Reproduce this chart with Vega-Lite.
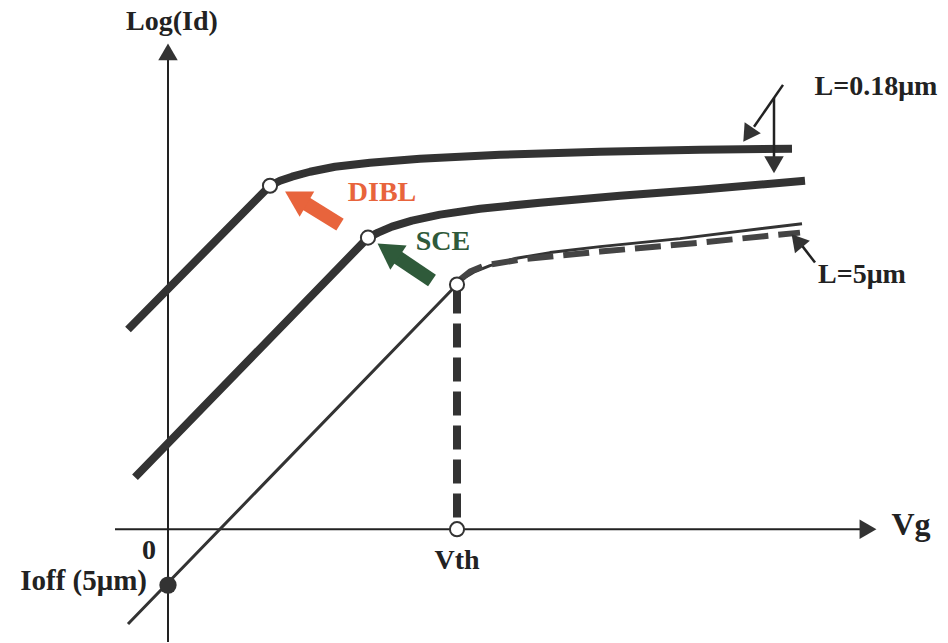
{
  "$schema": "https://vega.github.io/schema/vega-lite/v6.json",
  "width": 948,
  "height": 643,
  "padding": 0,
  "autosize": {"type": "fit", "contains": "padding"},
  "background": "white",
  "config": {"view": {"stroke": null}},
  "datasets": {
    "curves": [
      {"c": "top", "i": 0, "x": -40, "y": 200},
      {"c": "top", "i": 1, "x": 102, "y": 344},
      {"c": "top", "i": 2, "x": 112, "y": 349},
      {"c": "top", "i": 3, "x": 124, "y": 353},
      {"c": "top", "i": 4, "x": 142, "y": 358},
      {"c": "top", "i": 5, "x": 167, "y": 363},
      {"c": "top", "i": 6, "x": 202, "y": 367},
      {"c": "top", "i": 7, "x": 252, "y": 371},
      {"c": "top", "i": 8, "x": 332, "y": 375},
      {"c": "top", "i": 9, "x": 432, "y": 378},
      {"c": "top", "i": 10, "x": 532, "y": 380},
      {"c": "top", "i": 11, "x": 624, "y": 381},
      {"c": "mid", "i": 0, "x": -33, "y": 52},
      {"c": "mid", "i": 1, "x": 200, "y": 292},
      {"c": "mid", "i": 2, "x": 210, "y": 297},
      {"c": "mid", "i": 3, "x": 224, "y": 303},
      {"c": "mid", "i": 4, "x": 244, "y": 309},
      {"c": "mid", "i": 5, "x": 272, "y": 315},
      {"c": "mid", "i": 6, "x": 312, "y": 321},
      {"c": "mid", "i": 7, "x": 372, "y": 327},
      {"c": "mid", "i": 8, "x": 452, "y": 334},
      {"c": "mid", "i": 9, "x": 532, "y": 340},
      {"c": "mid", "i": 10, "x": 637, "y": 349},
      {"c": "long", "i": 0, "x": -40, "y": -95},
      {"c": "long", "i": 1, "x": 289, "y": 245},
      {"c": "long", "i": 2, "x": 297, "y": 252},
      {"c": "long", "i": 3, "x": 307, "y": 258},
      {"c": "long", "i": 4, "x": 322, "y": 264},
      {"c": "long", "i": 5, "x": 347, "y": 271},
      {"c": "long", "i": 6, "x": 382, "y": 277},
      {"c": "long", "i": 7, "x": 432, "y": 283},
      {"c": "long", "i": 8, "x": 512, "y": 291},
      {"c": "long", "i": 9, "x": 634, "y": 306},
      {"c": "ideal", "i": 0, "x": 292, "y": 250},
      {"c": "ideal", "i": 1, "x": 302, "y": 258},
      {"c": "ideal", "i": 2, "x": 316, "y": 264},
      {"c": "ideal", "i": 3, "x": 352, "y": 270},
      {"c": "ideal", "i": 4, "x": 432, "y": 278},
      {"c": "ideal", "i": 5, "x": 532, "y": 287},
      {"c": "ideal", "i": 6, "x": 632, "y": 297}
    ],
    "axes": [
      {"x": 0, "y": 470, "x2": 0, "y2": -113},
      {"x": -53, "y": 0, "x2": 695, "y2": 0}
    ],
    "axisHeads": [
      {"x": 0, "y": 478, "angle": 0},
      {"x": 700, "y": 0, "angle": 90}
    ],
    "vth": [{"x": 289, "y": 240, "x2": 289, "y2": 5}],
    "notes": [
      {"x": 615, "y": 445, "x2": 586, "y2": 403},
      {"x": 606, "y": 432, "x2": 606, "y2": 372},
      {"x": 647, "y": 267, "x2": 634, "y2": 284}
    ],
    "noteHeads": [
      {"x": 580, "y": 395, "angle": 214},
      {"x": 606, "y": 365, "angle": 180},
      {"x": 629, "y": 289, "angle": 320}
    ],
    "knees": [
      {"x": 102, "y": 344},
      {"x": 200, "y": 292},
      {"x": 289, "y": 245},
      {"x": 289, "y": 0}
    ],
    "ioff": [{"x": 0, "y": -56}],
    "labels": [
      {"t": "Log(Id)", "x": 4, "y": 508},
      {"t": "L=0.18μm", "x": 708, "y": 443},
      {"t": "L=5μm", "x": 694, "y": 255},
      {"t": "0", "x": -19, "y": -22},
      {"t": "Vth", "x": 289, "y": -32}
    ]
  },
  "layer": [
    {
      "data": {"name": "axes"},
      "mark": {"type": "rule", "color": "#222", "strokeWidth": 2},
      "encoding": {
        "x": {"field": "x", "type": "quantitative", "scale": {"domain": [-168, 780], "nice": false, "zero": false}, "axis": null},
        "y": {"field": "y", "type": "quantitative", "scale": {"domain": [-113, 530], "nice": false, "zero": false}, "axis": null},
        "x2": {"field": "x2"},
        "y2": {"field": "y2"}
      }
    },
    {
      "data": {"name": "axisHeads"},
      "mark": {"type": "point", "shape": "triangle-up", "filled": true, "color": "#333", "size": 380, "opacity": 1},
      "encoding": {
        "x": {"field": "x", "type": "quantitative"},
        "y": {"field": "y", "type": "quantitative"},
        "angle": {"field": "angle", "type": "quantitative", "scale": null}
      }
    },
    {
      "data": {"name": "curves"},
      "transform": [{"filter": "datum.c === 'top' || datum.c === 'mid'"}],
      "mark": {"type": "line", "color": "#333", "strokeWidth": 8, "strokeCap": "butt", "strokeJoin": "round"},
      "encoding": {
        "x": {"field": "x", "type": "quantitative"},
        "y": {"field": "y", "type": "quantitative"},
        "detail": {"field": "c"},
        "order": {"field": "i"}
      }
    },
    {
      "data": {"name": "curves"},
      "transform": [{"filter": "datum.c === 'long'"}],
      "mark": {"type": "line", "color": "#333", "strokeWidth": 3, "strokeCap": "butt", "strokeJoin": "round"},
      "encoding": {
        "x": {"field": "x", "type": "quantitative"},
        "y": {"field": "y", "type": "quantitative"},
        "order": {"field": "i"}
      }
    },
    {
      "data": {"name": "curves"},
      "transform": [{"filter": "datum.c === 'ideal'"}],
      "mark": {"type": "line", "color": "#444", "strokeWidth": 6, "strokeCap": "butt", "strokeDash": [26, 10], "strokeJoin": "round"},
      "encoding": {
        "x": {"field": "x", "type": "quantitative"},
        "y": {"field": "y", "type": "quantitative"},
        "order": {"field": "i"}
      }
    },
    {
      "data": {"name": "vth"},
      "mark": {"type": "rule", "color": "#333", "strokeWidth": 8, "strokeDash": [24, 10]},
      "encoding": {
        "x": {"field": "x", "type": "quantitative"},
        "y": {"field": "y", "type": "quantitative"},
        "x2": {"field": "x2"},
        "y2": {"field": "y2"}
      }
    },
    {
      "data": {"name": "notes"},
      "mark": {"type": "rule", "color": "#222", "strokeWidth": 2.5},
      "encoding": {
        "x": {"field": "x", "type": "quantitative"},
        "y": {"field": "y", "type": "quantitative"},
        "x2": {"field": "x2"},
        "y2": {"field": "y2"}
      }
    },
    {
      "data": {"name": "noteHeads"},
      "mark": {"type": "point", "shape": "triangle-up", "filled": true, "color": "#333", "size": 380, "opacity": 1},
      "encoding": {
        "x": {"field": "x", "type": "quantitative"},
        "y": {"field": "y", "type": "quantitative"},
        "angle": {"field": "angle", "type": "quantitative", "scale": null}
      }
    },
    {
      "data": {"values": [{"x": 172, "y": 305, "x2": 135, "y2": 328}]},
      "mark": {"type": "rule", "color": "#e8643c", "strokeWidth": 14},
      "encoding": {
        "x": {"field": "x", "type": "quantitative"},
        "y": {"field": "y", "type": "quantitative"},
        "x2": {"field": "x2"},
        "y2": {"field": "y2"}
      }
    },
    {
      "data": {"values": [{"x": 128, "y": 332, "angle": 300}]},
      "mark": {"type": "point", "shape": "triangle-up", "filled": true, "color": "#e8643c", "size": 850, "opacity": 1},
      "encoding": {
        "x": {"field": "x", "type": "quantitative"},
        "y": {"field": "y", "type": "quantitative"},
        "angle": {"field": "angle", "type": "quantitative", "scale": null}
      }
    },
    {
      "data": {"values": [{"x": 264, "y": 249, "x2": 227, "y2": 274}]},
      "mark": {"type": "rule", "color": "#2f5a3a", "strokeWidth": 14},
      "encoding": {
        "x": {"field": "x", "type": "quantitative"},
        "y": {"field": "y", "type": "quantitative"},
        "x2": {"field": "x2"},
        "y2": {"field": "y2"}
      }
    },
    {
      "data": {"values": [{"x": 220, "y": 279, "angle": 304}]},
      "mark": {"type": "point", "shape": "triangle-up", "filled": true, "color": "#2f5a3a", "size": 850, "opacity": 1},
      "encoding": {
        "x": {"field": "x", "type": "quantitative"},
        "y": {"field": "y", "type": "quantitative"},
        "angle": {"field": "angle", "type": "quantitative", "scale": null}
      }
    },
    {
      "data": {"name": "knees"},
      "mark": {"type": "point", "shape": "circle", "filled": true, "fill": "white", "stroke": "#333", "strokeWidth": 2, "size": 200, "opacity": 1},
      "encoding": {
        "x": {"field": "x", "type": "quantitative"},
        "y": {"field": "y", "type": "quantitative"}
      }
    },
    {
      "data": {"name": "ioff"},
      "mark": {"type": "point", "shape": "circle", "filled": true, "color": "#333", "size": 300, "opacity": 1},
      "encoding": {
        "x": {"field": "x", "type": "quantitative"},
        "y": {"field": "y", "type": "quantitative"}
      }
    },
    {
      "data": {"name": "labels"},
      "mark": {"type": "text", "font": "Liberation Serif", "fontWeight": "bold", "fontSize": 28, "color": "#222", "align": "center", "baseline": "middle"},
      "encoding": {
        "x": {"field": "x", "type": "quantitative"},
        "y": {"field": "y", "type": "quantitative"},
        "text": {"field": "t"}
      }
    },
    {
      "data": {"values": [{"t": "Vg", "x": 743, "y": 4}]},
      "mark": {"type": "text", "font": "Liberation Serif", "fontWeight": "bold", "fontSize": 32, "color": "#222", "align": "center", "baseline": "middle"},
      "encoding": {
        "x": {"field": "x", "type": "quantitative"},
        "y": {"field": "y", "type": "quantitative"},
        "text": {"field": "t"}
      }
    },
    {
      "data": {"values": [{"t": "Ioff (5μm)", "x": -21, "y": -52}]},
      "mark": {"type": "text", "font": "Liberation Serif", "fontWeight": "bold", "fontSize": 29, "color": "#222", "align": "right", "baseline": "middle"},
      "encoding": {
        "x": {"field": "x", "type": "quantitative"},
        "y": {"field": "y", "type": "quantitative"},
        "text": {"field": "t"}
      }
    },
    {
      "data": {"values": [{"t": "DIBL", "x": 214, "y": 337}]},
      "mark": {"type": "text", "font": "Liberation Serif", "fontWeight": "bold", "fontSize": 28, "color": "#e8643c", "align": "center", "baseline": "middle"},
      "encoding": {
        "x": {"field": "x", "type": "quantitative"},
        "y": {"field": "y", "type": "quantitative"},
        "text": {"field": "t"}
      }
    },
    {
      "data": {"values": [{"t": "SCE", "x": 275, "y": 288}]},
      "mark": {"type": "text", "font": "Liberation Serif", "fontWeight": "bold", "fontSize": 28, "color": "#2f5a3a", "align": "center", "baseline": "middle"},
      "encoding": {
        "x": {"field": "x", "type": "quantitative"},
        "y": {"field": "y", "type": "quantitative"},
        "text": {"field": "t"}
      }
    }
  ]
}
